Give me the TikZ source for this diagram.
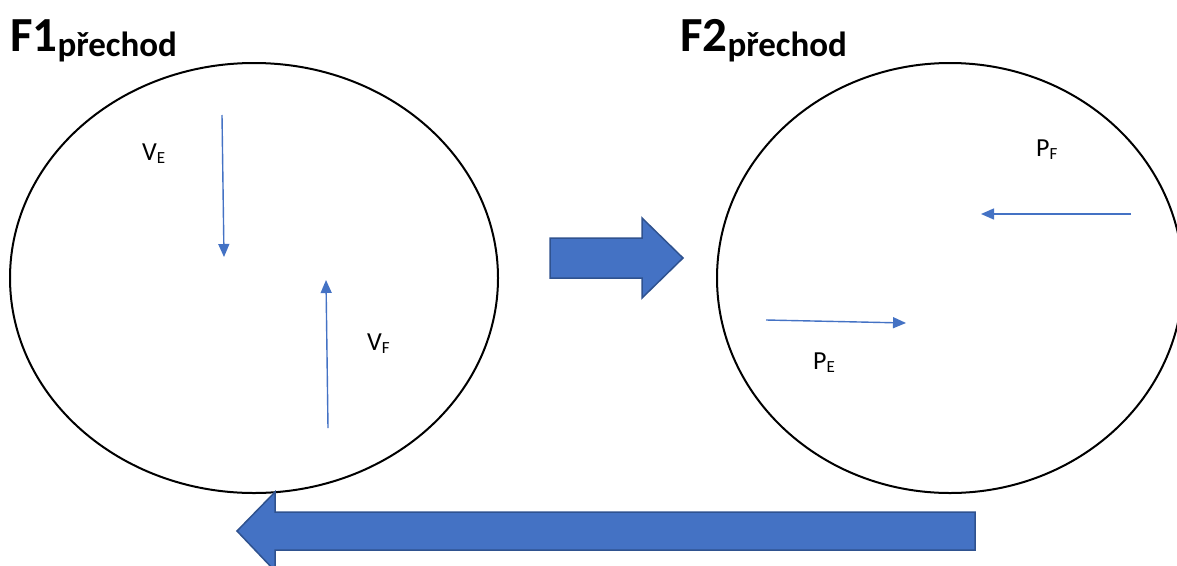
\documentclass[tikz,border=0pt]{standalone}
\usepackage{fontspec}
\setmainfont{Carlito}
\usetikzlibrary{shapes.geometric,arrows.meta}
\definecolor{accent}{HTML}{4472C4}
\definecolor{accentdark}{HTML}{2F528F}
\tikzset{
  phase/.style={ellipse, draw=black, line width=2pt, inner sep=0pt},
  vec/.style={draw=accent, line width=1.4pt, -{Triangle[length=13pt,width=11pt]}},
  blockarrow/.style={fill=accent, draw=accentdark, line width=1.5pt, line join=miter},
  title/.style={anchor=base west, inner sep=0pt, font=\bfseries},
  qty/.style={anchor=base west, inner sep=0pt},
}
\newcommand{\phasetitle}[1]{{\fontsize{49}{49}\selectfont #1}{\fontsize{35}{35}\selectfont\raisebox{-5pt}{přechod}}}
\newcommand{\qtylabel}[2]{{\fontsize{26}{26}\selectfont #1}{\fontsize{17}{17}\selectfont\raisebox{-3pt}{#2}}}
\begin{document}
\begin{tikzpicture}[x=1pt,y=-1pt]
\useasboundingbox (0,0) rectangle (1177,565);
\clip (0,0) rectangle (1177,565);

% phase circles
\node[phase, minimum width=488pt, minimum height=430pt] (f1) at (254,278) {};
\node[phase, minimum width=466pt, minimum height=430pt] (f2) at (950,278) {};

% titles
\node[title] (t1) at (10,51) {\phasetitle{F1}};
\node[title] (t2) at (680,51) {\phasetitle{F2}};

% vectors in F1
\coordinate (veS) at (222,115);
\coordinate (veE) at (224,257);
\draw[vec] (veS) -- (veE);
\coordinate (vfS) at (328,428);
\coordinate (vfE) at (326,280);
\draw[vec] (vfS) -- (vfE);
\node[qty] (lve) at (142,160) {\qtylabel{V}{E}};
\node[qty] (lvf) at (367,350) {\qtylabel{V}{F}};

% vectors in F2
\coordinate (pfS) at (1131,214);
\coordinate (pfE) at (981,214);
\draw[vec] (pfS) -- (pfE);
\coordinate (peS) at (766,320);
\coordinate (peE) at (906,323);
\draw[vec] (peS) -- (peE);
\node[qty] (lpf) at (1036,156) {\qtylabel{P}{F}};
\node[qty] (lpe) at (813,369) {\qtylabel{P}{E}};

% transition F1 -> F2
\draw[blockarrow] (550,238) -- (642,238) -- (642,218) -- (683,258)
  -- (642,298) -- (642,278) -- (550,278) -- cycle;

% transition F2 -> F1
\draw[blockarrow] (975,512) -- (275,512) -- (275,492) -- (237,531)
  -- (275,571) -- (275,550) -- (975,550) -- cycle;
\end{tikzpicture}
\end{document}
